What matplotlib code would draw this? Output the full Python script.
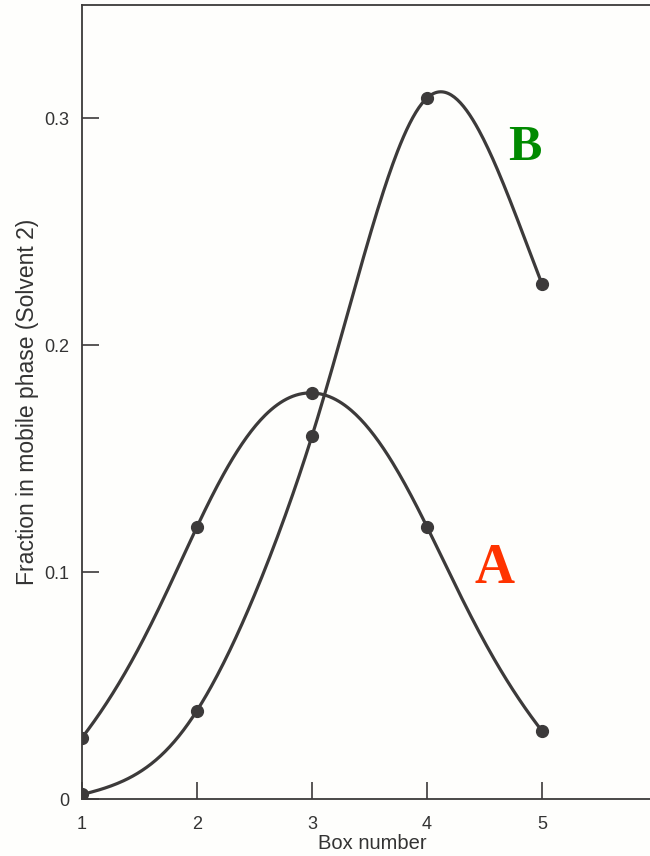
import numpy as np
import matplotlib
matplotlib.use("Agg")
import matplotlib.pyplot as plt

# Values
box = [1, 2, 3, 4, 5]
frac_a = [0.027, 0.120, 0.179, 0.120, 0.030]
frac_b = [0.002, 0.039, 0.160, 0.309, 0.227]
yticks = [0, 0.1, 0.2, 0.3]
ytick_labels = ["0", "0.1", "0.2", "0.3"]


def spline(x, y, xs):
    # natural cubic spline evaluated at xs
    k = len(x)
    h = np.diff(x)
    A = np.zeros((k, k))
    r = np.zeros(k)
    A[0, 0] = A[-1, -1] = 1
    for i in range(1, k - 1):
        A[i, i - 1] = h[i - 1]
        A[i, i] = 2 * (h[i - 1] + h[i])
        A[i, i + 1] = h[i]
        r[i] = 6 * ((y[i + 1] - y[i]) / h[i] - (y[i] - y[i - 1]) / h[i - 1])
    m = np.linalg.solve(A, r)
    idx = np.clip(np.searchsorted(x, xs) - 1, 0, k - 2)
    t = xs - x[idx]
    hi = h[idx]
    b = (y[idx + 1] - y[idx]) / hi - hi * (2 * m[idx] + m[idx + 1]) / 6
    return y[idx] + b * t + m[idx] / 2 * t**2 + (m[idx + 1] - m[idx]) / (6 * hi) * t**3


# smooth curve through the points: mix of a plain spline and a log-space one,
# which gives the bell shape of the hand-drawn curves
def smooth(x, y, n=300):
    x = np.asarray(x, float)
    y = np.asarray(y, float)
    xs = np.linspace(x[0], x[-1], n)
    lin = spline(x, y, xs)
    lg = np.exp(spline(x, np.log(y), xs))
    return xs, 0.4 * lin + 0.6 * lg


plt.rcParams['font.family'] = ['Liberation Sans', 'DejaVu Sans']

W, H = 650, 856
fig = plt.figure(figsize=(W / 100, H / 100), dpi=100, facecolor='#fefefc')
# right edge pushed past the figure so the right spine is cut off, like the scan
ax = fig.add_axes([82 / W, (H - 799) / H, (662 - 82) / W, (799 - 5) / H])
ax.set_facecolor('#fefefc')

ink = '#3c3a3a'
for xv, yv in [(box, frac_a), (box, frac_b)]:
    xs, ys = smooth(xv, yv)
    ax.plot(xs, ys, color=ink, lw=2.3, solid_capstyle='round')
    ax.plot(xv, yv, 'o', color=ink, ms=8.5)

ax.set_xlim(1, 1 + (662 - 82) / 115)
ax.set_ylim(0, 0.35)
ax.set_xticks(box)
ax.set_yticks(yticks)
ax.set_yticklabels(ytick_labels)
ax.tick_params(direction='in', length=12, width=1.2, color=ink,
               labelsize=13, labelcolor='#333333', pad=9)
ax.tick_params(axis='x', pad=12)
for s in ax.spines.values():
    s.set_color(ink)
    s.set_linewidth(1.3)
ax.spines['right'].set_visible(False)

ax.set_xlabel("Box number", fontsize=14.5, color='#333333', labelpad=1)
ax.set_ylabel("Fraction in mobile phase (Solvent 2)", fontsize=16.5,
              color='#333333', labelpad=4)

ax.text(4.59, 0.1015, "A", color='#ff3300', fontsize=40, fontweight='bold',
        family='Liberation Serif', ha='center', va='center')
ax.text(4.85, 0.287, "B", color='#008a00', fontsize=36, fontweight='bold',
        family='Liberation Serif', ha='center', va='center')

fig.savefig("out.png", dpi=100, facecolor=fig.get_facecolor())
